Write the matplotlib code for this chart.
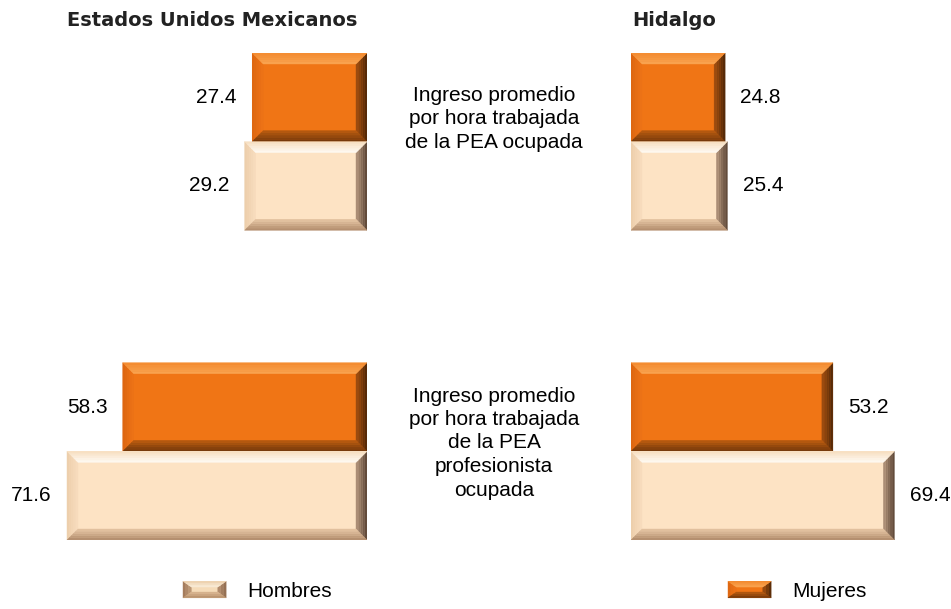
import numpy as np
import matplotlib.pyplot as plt
from matplotlib.patches import Polygon, Rectangle
from matplotlib.legend_handler import HandlerBase
from matplotlib.colors import to_rgb

plt.rcParams['font.family'] = 'Liberation Sans'
plt.rcParams['font.size'] = 15

# datos
paneles = ['Estados Unidos Mexicanos', 'Hidalgo']
indicadores = ['Ingreso promedio\npor hora trabajada\nde la PEA ocupada',
               'Ingreso promedio\npor hora trabajada\nde la PEA\nprofesionista\nocupada']
nacional_hombres = [29.2, 71.6]
nacional_mujeres = [27.4, 58.3]
hidalgo_hombres = [25.4, 69.4]
hidalgo_mujeres = [24.8, 53.2]

# colores: cara y (exterior, interior) de cada bisel
col_muj = {'face': '#F07515',
           'top': ('#F38A2E', '#FAA552'), 'bottom': ('#70360A', '#BA5C10'),
           'left': ('#DC6610', '#EE7317'), 'right': ('#4E2606', '#A34F10')}
col_hom = {'face': '#FDE3C4',
           'top': ('#F6DDBD', '#FFFBF4'), 'bottom': ('#B08A6A', '#E6C6A4'),
           'left': ('#ECCDAA', '#F8DDBE'), 'right': ('#5A4434', '#B4957C')}
leg_hom = {'face': '#F5DBB8',
           'top': ('#EBCDA8', '#FBEEDC'), 'bottom': ('#B48C68', '#DDBA94'),
           'left': ('#A07656', '#C09C7A'), 'right': ('#8E6A4E', '#B89272')}

W, H = 951, 609
fig = plt.figure(figsize=(W/100, H/100), dpi=100)

# posiciones verticales de los grupos (limite entre barras)
grupos = [0, 3.494]
ytop_px, ybot_px = 53, 540
ax1 = fig.add_axes([0, 1-ybot_px/H, 367/W, (ybot_px-ytop_px)/H])
ax2 = fig.add_axes([631/W, 1-ybot_px/H, 320/W, (ybot_px-ytop_px)/H])
ax1.set_xlim(367/4.19, 0)
ax2.set_xlim(0, 320/3.795)
for ax in (ax1, ax2):
    ax.set_ylim(grupos[1]+1, -1)
    ax.axis('off')


def mix(c1, c2, t):
    a, b = np.array(to_rgb(c1)), np.array(to_rgb(c2))
    return tuple(a + (b-a)*t)


def bevel_polys(xl, xr, yt, yb, dx, dy, colors, n=5, **kw):
    dxs = dx if xr > xl else -dx
    dys = dy if yb > yt else -dy

    def tl(s): return (xl+s*dxs, yt+s*dys)
    def tr(s): return (xr-s*dxs, yt+s*dys)
    def br(s): return (xr-s*dxs, yb-s*dys)
    def bl(s): return (xl+s*dxs, yb-s*dys)

    sides = {'top': (tl, tr), 'right': (tr, br), 'bottom': (br, bl), 'left': (bl, tl)}
    out = []
    for k in ('left', 'right', 'top', 'bottom'):
        f1, f2 = sides[k]
        c_out, c_in = colors[k]
        for j in range(n):
            a, b = j/n, (j+1)/n
            pts = [f1(a), f2(a), f2(b), f1(b)]
            out.append(Polygon(pts, closed=True, facecolor=mix(c_out, c_in, (j+0.5)/n),
                               edgecolor=mix(c_out, c_in, (j+0.5)/n), linewidth=0.3, **kw))
    return out


def bevel_bar(ax, y, val, colors, bev_px=11):
    ax.barh(y, val, height=1, color=colors['face'], linewidth=0)
    bb = ax.get_position()
    x0, x1 = ax.get_xlim()
    y0, y1 = ax.get_ylim()
    dx = bev_px * abs(x1-x0) / (bb.width*W)
    dy = bev_px * abs(y1-y0) / (bb.height*H)
    if ax.xaxis_inverted():
        xl, xr = val, 0
    else:
        xl, xr = 0, val
    for p in bevel_polys(xl, xr, y-0.5, y+0.5, dx, dy, colors):
        ax.add_patch(p)
    if ax.xaxis_inverted():
        ax.annotate(f'{val:.1f}', xy=(val, y), xytext=(-11, 0), textcoords='offset points',
                    ha='right', va='center', fontsize=15)
    else:
        ax.annotate(f'{val:.1f}', xy=(val, y), xytext=(11, 0), textcoords='offset points',
                    ha='left', va='center', fontsize=15)


for i, g in enumerate(grupos):
    bevel_bar(ax1, g-0.5, nacional_mujeres[i], col_muj)
    bevel_bar(ax1, g+0.5, nacional_hombres[i], col_hom)
    bevel_bar(ax2, g-0.5, hidalgo_mujeres[i], col_muj)
    bevel_bar(ax2, g+0.5, hidalgo_hombres[i], col_hom)

# titulos
fig.text(67/W, 1-21/H, paneles[0], family='DejaVu Sans', weight='bold', fontsize=14,
         ha='left', va='center', color='#222222')
fig.text(632/W, 1-21/H, paneles[1], family='DejaVu Sans', weight='bold', fontsize=14,
         ha='left', va='center', color='#222222')

# textos centrales
fig.text(494/W, 1-119/H, indicadores[0], ha='center', va='center', fontsize=15,
         linespacing=1.3, multialignment='center')
fig.text(494/W, 1-443/H, indicadores[1], ha='center', va='center', fontsize=15,
         linespacing=1.3, multialignment='center')


class HandlerBevel(HandlerBase):
    def __init__(self, colors):
        super().__init__()
        self.colors = colors

    def create_artists(self, legend, orig_handle, xdescent, ydescent, width, height,
                       fontsize, trans):
        x0, y0 = -xdescent, -ydescent
        face = Rectangle((x0, y0), width, height, facecolor=self.colors['face'],
                         edgecolor='none', transform=trans)
        polys = bevel_polys(x0, x0+width, y0+height, y0, height*0.5, height*0.35,
                            self.colors, n=3, transform=trans)
        return [face] + polys


h_hom = Rectangle((0, 0), 1, 1)
h_muj = Rectangle((0, 0), 1, 1)
fig.legend([h_hom], ['Hombres'], loc='center left', bbox_to_anchor=(183/W, 1-591/H),
           frameon=False, borderpad=0, borderaxespad=0, handlelength=2.07,
           handleheight=0.85, handletextpad=1.0, fontsize=15,
           handler_map={h_hom: HandlerBevel(leg_hom)})
fig.legend([h_muj], ['Mujeres'], loc='center left', bbox_to_anchor=(728/W, 1-591/H),
           frameon=False, borderpad=0, borderaxespad=0, handlelength=2.07,
           handleheight=0.85, handletextpad=1.0, fontsize=15,
           handler_map={h_muj: HandlerBevel(col_muj)})

fig.savefig('out.png', dpi=100)
